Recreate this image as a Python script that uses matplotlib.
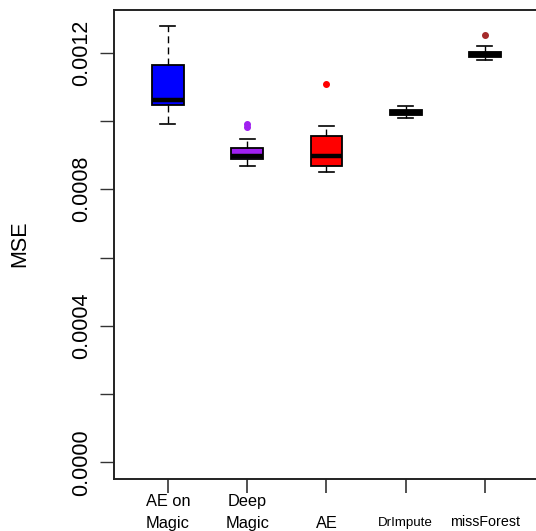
import matplotlib
matplotlib.use("Agg")
import matplotlib.pyplot as plt

plt.rcParams['font.family'] = ['Liberation Sans', 'DejaVu Sans']

# ---- data ----
methods = ["AE on\nMagic", "Deep\nMagic", "AE", "DrImpute", "missForest"]
whis_lo = [0.000992, 0.000867, 0.000851, 0.001009, 0.001179]
q1      = [0.001045, 0.000888, 0.000867, 0.001016, 0.001188]
median  = [0.001062, 0.000898, 0.000898, 0.001024, 0.001196]
q3      = [0.001163, 0.000922, 0.000956, 0.001031, 0.001203]
whis_hi = [0.001278, 0.000947, 0.000985, 0.001044, 0.001218]
outliers = [[], [0.000990, 0.000982], [0.001109], [], [0.001251]]
box_colors = ["#0000FF", "#A020F0", "#FF0000", "#000000", "#000000"]
flier_colors = ["#0000FF", "#A020F0", "#FF0000", "#000000", "#A52A2A"]
label_sizes = [11.8, 11.8, 11.8, 9.6, 10.3]
yticks = [0.0000, 0.0002, 0.0004, 0.0006, 0.0008, 0.0010, 0.0012]
ytick_labels = ["0.0000", "", "0.0004", "", "0.0008", "", "0.0012"]

W, H = 536, 531
fig = plt.figure(figsize=(W / 100, H / 100), dpi=100)
ax = fig.add_axes([114 / W, (H - 479) / H, 428 / W, 469.5 / H])

stats = []
for i in range(len(methods)):
    stats.append(dict(whislo=whis_lo[i], q1=q1[i], med=median[i], q3=q3[i],
                      whishi=whis_hi[i], fliers=outliers[i]))

positions = list(range(1, len(methods) + 1))
bp = ax.bxp(stats, positions=positions, widths=0.4, capwidths=0.19,
            patch_artist=True, showfliers=True,
            boxprops=dict(edgecolor="black", linewidth=1.3),
            medianprops=dict(color="black", linewidth=3.2, solid_capstyle="butt"),
            whiskerprops=dict(color="black", linewidth=1.0, linestyle=(0, (5, 3))),
            capprops=dict(color="black", linewidth=1.2))

for patch, c in zip(bp["boxes"], box_colors):
    patch.set_facecolor(c)
for fl, c in zip(bp["fliers"], flier_colors):
    fl.set_marker("o")
    fl.set_markerfacecolor(c)
    fl.set_markeredgecolor(c)
    fl.set_markersize(4)

ax.set_xlim(0.32, 5.72)
ax.set_ylim(-0.0000483, 0.001326)

ax.set_yticks(yticks)
ax.set_yticklabels(ytick_labels, rotation=90, va="center", fontsize=15.5)
ax.tick_params(axis="y", length=10, width=1.0, pad=6, color="#333333")
ax.set_xticks(positions)
ax.set_xticklabels([""] * len(positions))
ax.tick_params(axis="x", length=10, width=1.2, color="#333333")

for s in ax.spines.values():
    s.set_linewidth(1.4)
    s.set_color("#222222")

# x labels: last line baseline aligned
tr = ax.get_xaxis_transform()
for pos, lab, fs in zip(positions, methods, label_sizes):
    lines = lab.split("\n")
    base_last = 528 if fs > 11 else 526
    for k, line in enumerate(reversed(lines)):
        ypix = base_last - k * 22
        yax = (479 - ypix) / 469.5
        ax.text(pos, yax, line, transform=tr, ha="center", va="baseline",
                fontsize=fs, clip_on=False)

fig.text(20 / W, (H - 244) / H, "MSE", rotation=90, ha="center", va="center",
         fontsize=15.5)

fig.savefig("out.png", dpi=100)
